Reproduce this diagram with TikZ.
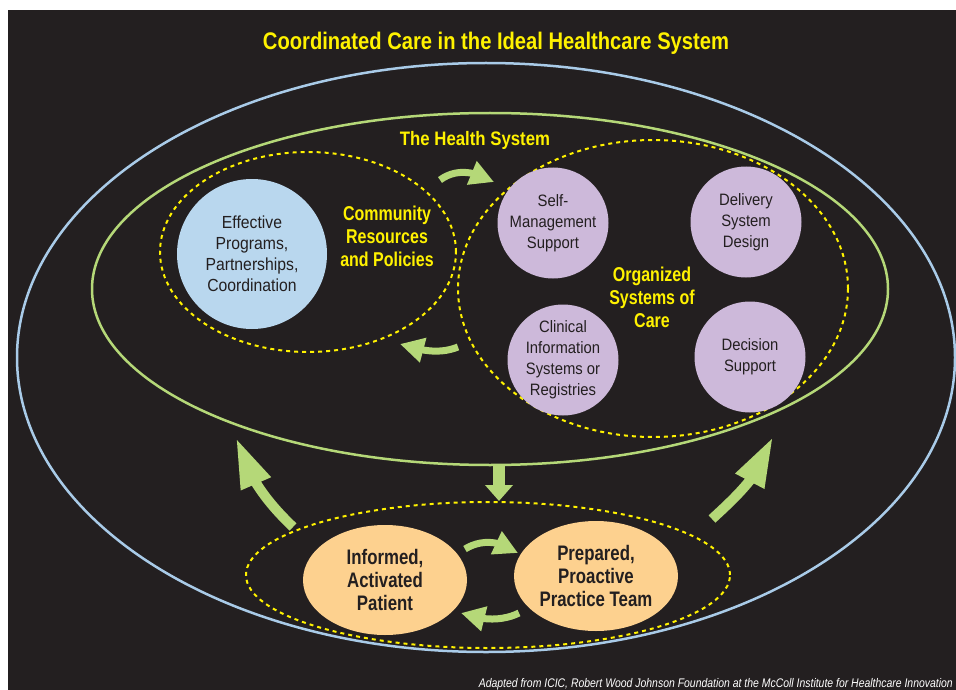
\documentclass[tikz,border=0pt]{standalone}
\usepackage{fontspec}
\setmainfont{Liberation Sans}
\newfontfamily\cond[FakeStretch=0.8]{Liberation Sans}
\newfontfamily\condreg[FakeStretch=0.9]{Liberation Sans}
\newfontfamily\condcap[FakeStretch=0.86]{Liberation Sans}
\newfontfamily\condnote[FakeStretch=0.835]{Liberation Sans}
\newfontfamily\condtitle[FakeStretch=0.84]{Liberation Sans}
\usetikzlibrary{arrows.meta,bending,shapes.geometric}
\definecolor{bg}{HTML}{231F20}
\definecolor{ylw}{HTML}{FFF200}
\definecolor{grn}{HTML}{B5D878}
\definecolor{blu}{HTML}{A9CBE8}
\definecolor{bluefill}{HTML}{B9D7EE}
\definecolor{purp}{HTML}{CDB9DA}
\definecolor{orng}{HTML}{FDD18F}
\definecolor{dark}{HTML}{231F20}
\tikzset{
  yellowdash/.style={draw=ylw, line width=2pt, dash pattern=on 4pt off 4pt},
  ylabel/.style={text=ylw, align=center, font=\cond\bfseries\fontsize{20}{23}\selectfont},
  incirc/.style={circle, inner sep=0pt, align=center, text=dark, font=\condreg\fontsize{16.5}{21}\selectfont},
  bluecirc/.style={incirc, fill=bluefill, minimum size=150pt, font=\condreg\fontsize{17.5}{21}\selectfont},
  purpcirc/.style={incirc, fill=purp, minimum size=111pt},
  orangeell/.style={ellipse, inner sep=0pt, fill=orng, minimum width=164pt, minimum height=110pt, align=center, text=dark, font=\cond\bfseries\fontsize{21}{23}\selectfont},
  garrow/.style={draw=grn, line width=7pt, -{Triangle[length=24pt, width=24pt, flex]}},
  bigarrow/.style={draw=grn, line width=10pt, -{Triangle[length=50pt, width=30pt, flex]}},
}
\begin{document}
\begin{tikzpicture}[x=1pt,y=-1pt]
\useasboundingbox (0,0) rectangle (956,690);
\fill[white] (0,0) rectangle (956,690);
\fill[bg] (8,10) rectangle (956,690);
\begin{scope}
\clip (8,10) rectangle (956,690);
% title
\node[text=ylw, font=\condtitle\bfseries\fontsize{24}{28}\selectfont] (title) at (496,43) {Coordinated Care in the Ideal Healthcare System};
% outer ellipses
\draw[blu, line width=2.5pt] (486,357.5) ellipse [x radius=469pt, y radius=294.5pt];
\draw[grn, line width=2.5pt] (490,289) ellipse [x radius=398pt, y radius=176pt];
\node[ylabel, font=\condcap\bfseries\fontsize{19.5}{22}\selectfont] (hs) at (475,140) {The Health System};
% community
\draw[yellowdash] (308,252) ellipse [x radius=148pt, y radius=100pt];
\node[bluecirc] (epc) at (252,254) {Effective\\Programs,\\Partnerships,\\Coordination};
\node[ylabel] (crp) at (387,236) {Community\\Resources\\and Policies};
% organized systems
\draw[yellowdash] (653,288.5) ellipse [x radius=195pt, y radius=148.5pt];
\node[purpcirc] (sms) at (553,223) {Self-\\Management\\Support};
\node[purpcirc] (dsd) at (746,222) {Delivery\\System\\Design};
\node[purpcirc] (cis) at (563,360) {Clinical\\Information\\Systems or\\Registries};
\node[purpcirc] (ds) at (750,357) {Decision\\Support};
\node[ylabel] (osc) at (652,297) {Organized\\Systems of\\Care};
% lower
\draw[yellowdash] (488,575) ellipse [x radius=242pt, y radius=73pt];
\node[orangeell] (iap) at (385,580) {Informed,\\Activated\\Patient};
\node[orangeell] (ppt) at (596,576) {Prepared,\\Proactive\\Practice Team};
% arrow coordinates
\coordinate (a1s) at (440,180); \coordinate (a1e) at (494,182);
\coordinate (a2s) at (458,347); \coordinate (a2e) at (400,344);
\coordinate (a3s) at (465,549); \coordinate (a3e) at (518,553);
\coordinate (a4s) at (519,613); \coordinate (a4e) at (461,613);
\coordinate (a5s) at (293,527); \coordinate (a5e) at (236,438);
\coordinate (a6s) at (712,519); \coordinate (a6e) at (773,437);
\coordinate (dns) at (499,466); \coordinate (dne) at (499,501);
\draw[garrow] (a1s) .. controls (452,171) and (470,168) .. (a1e);
\draw[garrow] (a2s) .. controls (445,352) and (430,354) .. (a2e);
\draw[garrow] (a3s) .. controls (478,541) and (497,538) .. (a3e);
\draw[garrow] (a4s) .. controls (505,620) and (485,622) .. (a4e);
\draw[bigarrow] (a5s) .. controls (268,503) and (248,478) .. (a5e);
\draw[bigarrow] (a6s) .. controls (738,495) and (763,472) .. (a6e);
\draw[draw=grn, line width=12pt, -{Triangle[length=16pt, width=27pt]}] (dns) -- (dne);
% caption
\node[anchor=base east, inner sep=0pt, text=white, font=\condnote\itshape\fontsize{12.5}{14}\selectfont] (cap) at (953,687) {Adapted from ICIC, Robert Wood Johnson Foundation at the McColl Institute for Healthcare Innovation};
\end{scope}
\end{tikzpicture}
\end{document}
